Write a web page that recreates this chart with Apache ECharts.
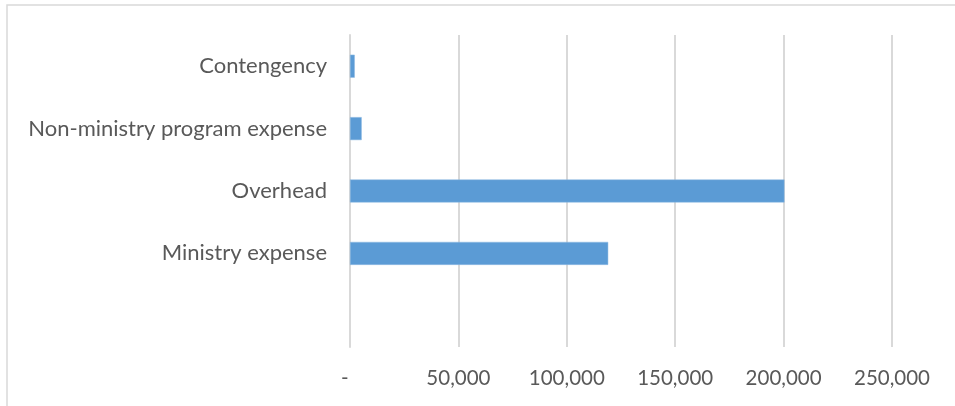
<!DOCTYPE html>
<html>
<head>
<meta charset="utf-8">
<script src="https://cdn.jsdelivr.net/npm/echarts@6/dist/echarts.min.js"></script>
<style>
  html, body { margin: 0; padding: 0; background: #fff; }
  #bar-chart { width: 955px; height: 406px; }
</style>
</head>
<body>
<div id="bar-chart"></div>
<script>
// categories listed bottom to top (the bottom slot is empty in the source)
const categories = ['', 'Ministry expense', 'Overhead', 'Non-ministry program expense', 'Contengency']
const amounts = [null, 119100, 200400, 5400, 2200]
const xTicks = [0, 50000, 100000, 150000, 200000, 250000]

const chartInstance = echarts.init(document.getElementById('bar-chart'))

const formatTick = (v) => {
  if (v === 0) return '-  '
  return v.toLocaleString('en-US')
}

const eOptions = {
  animation: false,
  graphic: [
    {
      type: 'rect',
      shape: { x: 7, y: 5, width: 1000, height: 500 },
      style: { fill: 'none', stroke: '#d9d9d9', lineWidth: 1.5 },
      silent: true
    }
  ],
  grid: {
    left: 350,
    right: 63,
    top: 35,
    bottom: 59
  },
  xAxis: {
    type: 'value',
    min: xTicks[0],
    max: xTicks[xTicks.length - 1],
    interval: 50000,
    axisLine: { show: false },
    axisTick: { show: false },
    axisLabel: {
      margin: 21,
      fontSize: 20.5,
      fontFamily: 'Lato',
      color: '#595959',
      formatter: formatTick
    },
    splitLine: {
      show: true,
      lineStyle: { color: '#d9d9d9', width: 2 }
    }
  },
  yAxis: {
    type: 'category',
    data: categories,
    axisTick: { show: false },
    axisLine: {
      show: true,
      lineStyle: { color: '#d9d9d9', width: 2 }
    },
    axisLabel: {
      margin: 23,
      fontSize: 22,
      fontFamily: 'Lato',
      color: '#595959'
    }
  },
  series: [
    {
      type: 'bar',
      data: amounts,
      barWidth: 23,
      itemStyle: {
        color: '#5b9bd5',
        borderColor: '#8fbbe3',
        borderWidth: 0.5
      }
    }
  ]
}

chartInstance.setOption(eOptions)
</script>
</body>
</html>
